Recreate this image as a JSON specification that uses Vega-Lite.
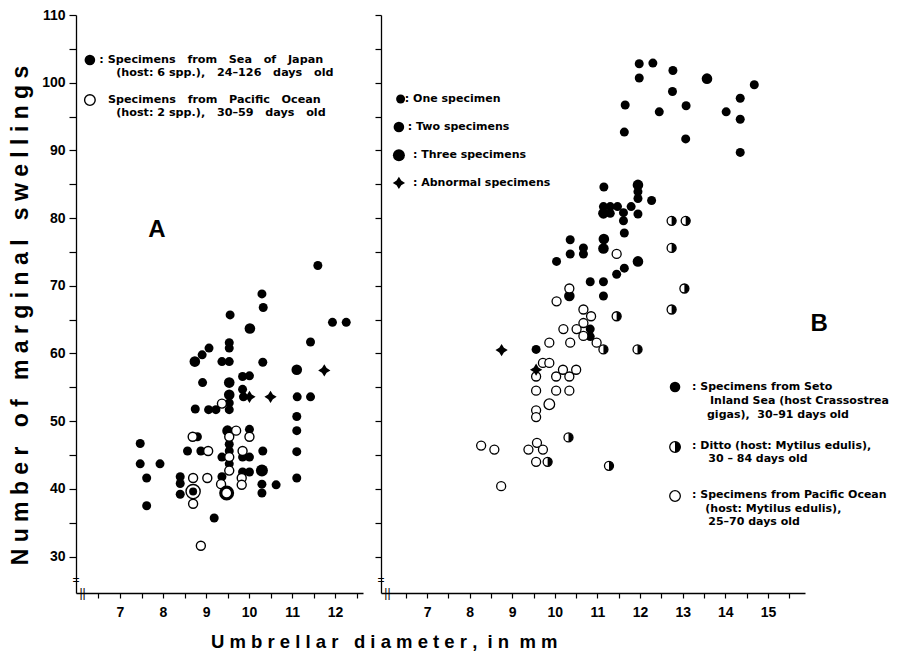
{
  "$schema": "https://vega.github.io/schema/vega-lite/v6.json",
  "background": "white",
  "padding": {"left": 9, "top": 8, "right": 0, "bottom": 0},
  "bounds": "flush",
  "spacing": 18,
  "config": {
    "view": {"stroke": null},
    "axis": {"domainColor": "black", "tickColor": "black", "labelColor": "black", "labelFont": "Liberation Sans", "labelFontWeight": "bold", "labelFontSize": 14, "grid": false, "domainWidth": 1.3, "tickWidth": 1.2, "tickSize": 6},
    "text": {"color": "black"}
  },
  "title": {"text": "U m b r e l l a r \u00a0 d i a m e t e r , \u00a0i n \u00a0m m", "orient": "bottom", "anchor": "start", "dx": 202, "offset": 14, "font": "Liberation Sans", "fontSize": 18.5, "fontWeight": "bold", "color": "black"},
  "datasets": {
    "ptsA": [
      {"x":10.33,"y":66.8,"k":"f","n":1},{"x":9.56,"y":65.7,"k":"f","n":1},{"x":10.02,"y":63.7,"k":"f","n":2},{"x":11.94,"y":64.6,"k":"f","n":1},{"x":12.26,"y":64.6,"k":"f","n":1},
      {"x":11.6,"y":73.0,"k":"f","n":1},{"x":10.3,"y":68.8,"k":"f","n":1},
      {"x":11.43,"y":61.7,"k":"f","n":1},{"x":9.54,"y":61.6,"k":"f","n":1},{"x":9.54,"y":60.8,"k":"f","n":1},{"x":9.07,"y":60.8,"k":"f","n":1},{"x":8.91,"y":59.8,"k":"f","n":1},
      {"x":8.74,"y":58.8,"k":"f","n":2},{"x":9.37,"y":58.8,"k":"f","n":1},{"x":9.54,"y":58.8,"k":"f","n":1},{"x":10.32,"y":58.7,"k":"f","n":1},{"x":11.11,"y":57.6,"k":"f","n":2},
      {"x":9.85,"y":56.6,"k":"f","n":1},{"x":10.01,"y":56.7,"k":"f","n":1},{"x":8.92,"y":55.7,"k":"f","n":1},{"x":9.54,"y":55.7,"k":"f","n":2},{"x":9.85,"y":54.7,"k":"f","n":1},
      {"x":9.54,"y":53.9,"k":"f","n":2},{"x":9.87,"y":53.6,"k":"f","n":1},{"x":11.12,"y":53.6,"k":"f","n":1},{"x":11.43,"y":53.6,"k":"f","n":1},{"x":9.54,"y":52.7,"k":"f","n":1},
      {"x":8.75,"y":51.8,"k":"f","n":1},{"x":9.06,"y":51.7,"k":"f","n":1},{"x":9.23,"y":51.7,"k":"f","n":1},{"x":9.54,"y":51.7,"k":"f","n":1},{"x":11.11,"y":50.7,"k":"f","n":1},
      {"x":11.11,"y":48.6,"k":"f","n":1},{"x":9.5,"y":48.6,"k":"f","n":2},{"x":10.01,"y":48.8,"k":"f","n":1},{"x":8.8,"y":47.7,"k":"f","n":1},{"x":7.47,"y":46.7,"k":"f","n":1},
      {"x":9.54,"y":46.6,"k":"f","n":1},{"x":9.54,"y":45.6,"k":"f","n":1},{"x":8.57,"y":45.6,"k":"f","n":1},{"x":8.88,"y":45.6,"k":"f","n":1},{"x":10.32,"y":45.6,"k":"f","n":1},
      {"x":11.11,"y":45.5,"k":"f","n":1},{"x":9.37,"y":44.7,"k":"f","n":1},{"x":9.85,"y":44.7,"k":"f","n":1},{"x":10.01,"y":44.7,"k":"f","n":1},{"x":7.47,"y":43.7,"k":"f","n":1},
      {"x":7.93,"y":43.7,"k":"f","n":1},{"x":9.54,"y":43.7,"k":"f","n":1},{"x":10.3,"y":42.7,"k":"f","n":3},{"x":9.85,"y":42.5,"k":"f","n":1},{"x":10.01,"y":42.5,"k":"f","n":1},
      {"x":7.62,"y":41.6,"k":"f","n":1},{"x":8.4,"y":41.8,"k":"f","n":1},{"x":9.37,"y":41.8,"k":"f","n":1},{"x":11.11,"y":41.6,"k":"f","n":1},{"x":8.4,"y":40.8,"k":"f","n":1},
      {"x":10.3,"y":40.7,"k":"f","n":1},{"x":10.63,"y":40.6,"k":"f","n":1},{"x":8.4,"y":39.2,"k":"f","n":1},{"x":10.3,"y":39.4,"k":"f","n":1},
      {"x":7.62,"y":37.5,"k":"f","n":1},{"x":9.19,"y":35.7,"k":"f","n":1},
      {"x":8.7,"y":39.6,"k":"r","n":3},{"x":8.7,"y":39.6,"k":"f","n":1},
      {"x":9.48,"y":39.4,"k":"t","n":3},
      {"x":11.75,"y":57.5,"k":"d","n":1},{"x":10.01,"y":53.6,"k":"d","n":1},{"x":10.5,"y":53.6,"k":"d","n":1},
      {"x":9.37,"y":52.6,"k":"o","n":1},{"x":9.7,"y":48.6,"k":"o","n":1},{"x":10.01,"y":47.7,"k":"o","n":1},{"x":8.69,"y":47.7,"k":"o","n":1},{"x":9.54,"y":47.7,"k":"o","n":1},
      {"x":9.05,"y":45.6,"k":"o","n":1},{"x":9.85,"y":45.6,"k":"o","n":1},{"x":9.54,"y":44.7,"k":"o","n":1},{"x":9.54,"y":42.7,"k":"o","n":1},{"x":8.7,"y":41.6,"k":"o","n":1},
      {"x":9.03,"y":41.6,"k":"o","n":1},{"x":9.83,"y":41.6,"k":"o","n":1},{"x":9.35,"y":40.7,"k":"o","n":1},{"x":9.83,"y":40.6,"k":"o","n":1},{"x":8.7,"y":37.8,"k":"o","n":1},
      {"x":8.88,"y":31.6,"k":"o","n":1},
      {"x":6.3,"y":103.35,"k":"f","n":2},{"x":6.3,"y":97.44,"k":"o","n":2}
    ],
    "ptsB": [
      {"x":11.98,"y":102.8,"k":"f","n":1},{"x":12.3,"y":102.9,"k":"f","n":1},{"x":12.77,"y":101.8,"k":"f","n":1},{"x":11.98,"y":100.7,"k":"f","n":1},{"x":13.57,"y":100.6,"k":"f","n":2},
      {"x":14.68,"y":99.7,"k":"f","n":1},{"x":12.76,"y":98.7,"k":"f","n":1},{"x":14.35,"y":97.7,"k":"f","n":1},{"x":11.65,"y":96.7,"k":"f","n":1},{"x":13.08,"y":96.6,"k":"f","n":1},
      {"x":12.45,"y":95.7,"k":"f","n":1},{"x":14.02,"y":95.7,"k":"f","n":1},{"x":14.35,"y":94.6,"k":"f","n":1},{"x":11.63,"y":92.7,"k":"f","n":1},{"x":13.07,"y":91.7,"k":"f","n":1},
      {"x":14.35,"y":89.7,"k":"f","n":1},{"x":11.15,"y":84.6,"k":"f","n":1},{"x":11.95,"y":84.9,"k":"f","n":2},{"x":11.95,"y":83.9,"k":"f","n":1},{"x":11.95,"y":82.9,"k":"f","n":1},
      {"x":12.27,"y":82.6,"k":"f","n":1},{"x":11.14,"y":81.7,"k":"f","n":1},{"x":11.3,"y":81.7,"k":"f","n":1},{"x":11.47,"y":81.7,"k":"f","n":1},{"x":11.14,"y":80.7,"k":"f","n":2},
      {"x":11.3,"y":80.7,"k":"f","n":1},{"x":11.79,"y":81.7,"k":"f","n":1},{"x":11.61,"y":80.8,"k":"f","n":1},{"x":11.95,"y":80.6,"k":"f","n":1},{"x":11.61,"y":79.6,"k":"f","n":1},
      {"x":11.63,"y":77.8,"k":"f","n":1},{"x":11.15,"y":76.9,"k":"f","n":2},{"x":10.36,"y":76.8,"k":"f","n":1},{"x":10.67,"y":75.6,"k":"f","n":1},{"x":11.14,"y":75.5,"k":"f","n":2},
      {"x":10.36,"y":74.7,"k":"f","n":1},{"x":10.67,"y":74.7,"k":"f","n":1},{"x":10.04,"y":73.6,"k":"f","n":1},{"x":11.95,"y":73.6,"k":"f","n":2},{"x":11.63,"y":72.6,"k":"f","n":1},
      {"x":11.45,"y":71.7,"k":"f","n":1},{"x":10.83,"y":70.6,"k":"f","n":1},{"x":11.14,"y":70.6,"k":"f","n":1},{"x":10.34,"y":68.5,"k":"f","n":2},{"x":11.14,"y":68.5,"k":"f","n":1},
      {"x":10.83,"y":63.6,"k":"f","n":1},{"x":10.83,"y":62.5,"k":"f","n":1},{"x":9.56,"y":60.6,"k":"f","n":1},
      {"x":12.74,"y":79.6,"k":"h","n":1},{"x":13.07,"y":79.6,"k":"h","n":1},{"x":12.74,"y":75.6,"k":"h","n":1},{"x":13.04,"y":69.6,"k":"h","n":1},{"x":12.74,"y":66.5,"k":"h","n":1},
      {"x":11.45,"y":65.5,"k":"h","n":1},{"x":11.14,"y":60.6,"k":"h","n":1},{"x":11.94,"y":60.6,"k":"h","n":1},{"x":10.32,"y":47.6,"k":"h","n":1},{"x":9.83,"y":44.0,"k":"h","n":1},
      {"x":11.27,"y":43.4,"k":"h","n":1},
      {"x":11.45,"y":74.7,"k":"o","n":1},{"x":10.34,"y":69.6,"k":"o","n":1},{"x":10.04,"y":67.7,"k":"o","n":1},{"x":10.67,"y":66.5,"k":"o","n":1},{"x":10.85,"y":65.5,"k":"o","n":1},
      {"x":10.67,"y":64.5,"k":"o","n":1},{"x":10.2,"y":63.6,"k":"o","n":1},{"x":10.51,"y":63.6,"k":"o","n":1},{"x":10.67,"y":62.6,"k":"o","n":1},{"x":10.36,"y":61.6,"k":"o","n":1},
      {"x":9.87,"y":61.6,"k":"o","n":1},{"x":10.98,"y":61.6,"k":"o","n":1},{"x":9.72,"y":58.6,"k":"o","n":1},{"x":9.87,"y":58.6,"k":"o","n":1},{"x":10.19,"y":57.6,"k":"o","n":1},
      {"x":10.5,"y":57.6,"k":"o","n":1},{"x":9.56,"y":56.6,"k":"o","n":1},{"x":10.03,"y":56.6,"k":"o","n":1},{"x":10.34,"y":56.6,"k":"o","n":1},{"x":9.56,"y":54.5,"k":"o","n":1},
      {"x":10.03,"y":54.5,"k":"o","n":1},{"x":10.34,"y":54.5,"k":"o","n":1},{"x":9.87,"y":52.5,"k":"o","n":2},{"x":9.56,"y":51.6,"k":"o","n":1},{"x":9.56,"y":50.6,"k":"o","n":1},
      {"x":8.27,"y":46.4,"k":"o","n":1},{"x":8.58,"y":45.8,"k":"o","n":1},{"x":9.38,"y":45.8,"k":"o","n":1},{"x":9.58,"y":46.8,"k":"o","n":1},{"x":9.72,"y":45.8,"k":"o","n":1},
      {"x":9.56,"y":44.0,"k":"o","n":1},{"x":8.74,"y":40.4,"k":"o","n":1},
      {"x":8.75,"y":60.5,"k":"d","n":1},{"x":9.56,"y":57.6,"k":"d","n":1},
      {"x":6.38,"y":97.6,"k":"f","n":1},{"x":6.34,"y":93.46,"k":"f","n":2},{"x":6.34,"y":89.3,"k":"f","n":3},{"x":6.34,"y":85.2,"k":"d","n":1},
      {"x":12.82,"y":55.05,"k":"f","n":2},{"x":12.82,"y":46.19,"k":"h","n":2},{"x":12.82,"y":38.95,"k":"o","n":2}
    ],
    "txtA": [
      {"x":6.52,"y":103.4,"t":": Specimens \u00a0\u00a0from \u00a0\u00a0Sea \u00a0\u00a0of \u00a0\u00a0Japan"},
      {"x":6.91,"y":101.4,"t":"(host: 6 spp.), \u00a0\u00a024–126 \u00a0\u00a0days \u00a0\u00a0old"},
      {"x":6.72,"y":97.5,"t":"Specimens \u00a0\u00a0from \u00a0\u00a0Pacific \u00a0\u00a0Ocean"},
      {"x":6.91,"y":95.5,"t":"(host: 2 spp.), \u00a0\u00a030–59 \u00a0\u00a0days \u00a0\u00a0old"}
    ],
    "txtB": [
      {"x":6.48,"y":97.6,"t":": One specimen"},
      {"x":6.55,"y":93.46,"t":": Two specimens"},
      {"x":6.67,"y":89.3,"t":": Three specimens"},
      {"x":6.67,"y":85.2,"t":": Abnormal specimens"}
    ],
    "txtB2": [
      {"x":13.22,"y":55.05,"t":": Specimens from Seto"},
      {"x":13.64,"y":52.98,"t":"Inland Sea (host Crassostrea"},
      {"x":13.57,"y":50.91,"t":"gigas), \u00a030–91 days old"},
      {"x":13.22,"y":46.3,"t":": Ditto (host: Mytilus edulis),"},
      {"x":13.6,"y":44.35,"t":"30 – 84 days old"},
      {"x":13.22,"y":39.05,"t":": Specimens from Pacific Ocean"},
      {"x":13.53,"y":37.05,"t":"(host: Mytilus edulis),"},
      {"x":13.6,"y":35.05,"t":"25–70 days old"}
    ],
    "lblA": [{"x":7.86,"y":78.2,"t":"A"}],
    "lblB": [{"x":16.2,"y":64.4,"t":"B"}],
    "brkA": [{"x":5.977,"y":26.5,"t":"="},{"x":6.13,"y":24.62,"t":"||"}],
    "brkB": [{"x":5.92,"y":26.5,"t":"="},{"x":6.07,"y":24.62,"t":"||"}]
  },
  "hconcat": [
    {
      "width": 287,
      "height": 578,
      "encoding": {
        "x": {"field": "x", "type": "quantitative", "scale": {"domain": [5.977, 12.65], "nice": false, "zero": false},
          "axis": {"title": null, "values": [6.5,7,7.5,8,8.5,9,9.5,10,10.5,11,11.5,12,12.5], "labelExpr": "datum.value % 1 === 0 ? format(datum.value, 'd') : ''", "tickSize": 5, "labelPadding": 7}},
        "y": {"field": "y", "type": "quantitative", "scale": {"domain": [24.62, 110], "nice": false, "zero": false},
          "axis": {"title": "N u m b e r \u00a0 o f \u00a0 m a r g i n a l \u00a0 s w e l l i n g s", "titleFont": "Liberation Sans", "titleFontSize": 23, "titleFontWeight": "bold", "titleColor": "black", "titlePadding": 9, "titleY": 300, "minExtent": 35, "maxExtent": 35,
            "values": [30,35,40,45,50,55,60,65,70,75,80,85,90,95,100,105,110], "labelExpr": "datum.value % 10 === 0 ? format(datum.value, 'd') : ''", "tickSize": 7, "labelPadding": 4}}
      },
      "layer": [
        {"data": {"name": "ptsA"}, "transform": [{"filter": "datum.k === 'f'"}], "mark": {"type": "point", "shape": "circle", "filled": true, "color": "black", "opacity": 1},
          "encoding": {"size": {"field": "n", "type": "ordinal", "scale": {"domain": [1,2,3], "range": [81,144,225]}, "legend": null}}},
        {"data": {"name": "ptsA"}, "transform": [{"filter": "datum.k === 'o'"}], "mark": {"type": "point", "shape": "circle", "filled": false, "fill": "white", "fillOpacity": 1, "stroke": "black", "strokeWidth": 1.4, "opacity": 1},
          "encoding": {"size": {"field": "n", "type": "ordinal", "scale": {"domain": [1,2,3], "range": [56,110,170]}, "legend": null}}},
        {"data": {"name": "ptsA"}, "transform": [{"filter": "datum.k === 'r'"}], "mark": {"type": "point", "shape": "circle", "filled": false, "fill": "white", "fillOpacity": 1, "stroke": "black", "strokeWidth": 1.4, "size": 200, "opacity": 1}},
        {"data": {"name": "ptsA"}, "transform": [{"filter": "datum.k === 't'"}], "mark": {"type": "point", "shape": "circle", "filled": false, "fill": "white", "fillOpacity": 1, "stroke": "black", "strokeWidth": 3.2, "size": 140, "opacity": 1}},
        {"data": {"name": "ptsA"}, "transform": [{"filter": "datum.k === 'r'"}], "mark": {"type": "point", "shape": "circle", "filled": true, "color": "black", "size": 64, "opacity": 1}},
        {"data": {"name": "ptsA"}, "transform": [{"filter": "datum.k === 'd'"}], "mark": {"type": "point", "shape": "M0,-1L0.38,-0.38L1,0L0.38,0.38L0,1L-0.38,0.38L-1,0L-0.38,-0.38Z", "filled": true, "color": "black", "size": 150, "opacity": 1}},
        {"data": {"name": "txtA"}, "mark": {"type": "text", "align": "left", "baseline": "middle", "font": "DejaVu Sans", "fontWeight": "bold", "fontSize": 11.2, "color": "black"}, "encoding": {"text": {"field": "t"}}},
        {"data": {"name": "lblA"}, "mark": {"type": "text", "align": "center", "baseline": "middle", "font": "Liberation Sans", "fontWeight": "bold", "fontSize": 24, "color": "black"}, "encoding": {"text": {"field": "t"}}},
        {"data": {"name": "brkA"}, "mark": {"type": "text", "align": "center", "baseline": "middle", "font": "Liberation Sans", "fontSize": 12, "color": "black"}, "encoding": {"text": {"field": "t"}}}
      ]
    },
    {
      "width": 424,
      "height": 578,
      "encoding": {
        "x": {"field": "x", "type": "quantitative", "scale": {"domain": [5.92, 15.87], "nice": false, "zero": false},
          "axis": {"title": null, "values": [6.5,7,7.5,8,8.5,9,9.5,10,10.5,11,11.5,12,12.5,13,13.5,14,14.5,15,15.5], "labelExpr": "datum.value % 1 === 0 ? format(datum.value, 'd') : ''", "tickSize": 5, "labelPadding": 7}},
        "y": {"field": "y", "type": "quantitative", "scale": {"domain": [24.62, 110], "nice": false, "zero": false},
          "axis": {"title": null, "labels": false, "values": [30,35,40,45,50,55,60,65,70,75,80,85,90,95,100,105,110], "tickSize": 6}}
      },
      "layer": [
        {"data": {"name": "ptsB"}, "transform": [{"filter": "datum.k === 'f'"}], "mark": {"type": "point", "shape": "circle", "filled": true, "color": "black", "opacity": 1},
          "encoding": {"size": {"field": "n", "type": "ordinal", "scale": {"domain": [1,2,3], "range": [81,144,225]}, "legend": null}}},
        {"data": {"name": "ptsB"}, "transform": [{"filter": "datum.k === 'o'"}], "mark": {"type": "point", "shape": "circle", "filled": false, "fill": "white", "fillOpacity": 1, "stroke": "black", "strokeWidth": 1.3, "opacity": 1},
          "encoding": {"size": {"field": "n", "type": "ordinal", "scale": {"domain": [1,2,3], "range": [52,110,170]}, "legend": null}}},
        {"data": {"name": "ptsB"}, "transform": [{"filter": "datum.k === 'h'"}], "mark": {"type": "point", "shape": "circle", "filled": false, "fill": "white", "fillOpacity": 1, "stroke": "black", "strokeWidth": 1.3, "opacity": 1},
          "encoding": {"size": {"field": "n", "type": "ordinal", "scale": {"domain": [1,2,3], "range": [70,130,170]}, "legend": null}}},
        {"data": {"name": "ptsB"}, "transform": [{"filter": "datum.k === 'h'"}], "mark": {"type": "point", "shape": "M0,-1A1,1,0,0,1,0,1Z", "filled": true, "color": "black", "opacity": 1},
          "encoding": {"size": {"field": "n", "type": "ordinal", "scale": {"domain": [1,2,3], "range": [70,130,170]}, "legend": null}}},
        {"data": {"name": "ptsB"}, "transform": [{"filter": "datum.k === 'd'"}], "mark": {"type": "point", "shape": "M0,-1L0.38,-0.38L1,0L0.38,0.38L0,1L-0.38,0.38L-1,0L-0.38,-0.38Z", "filled": true, "color": "black", "size": 150, "opacity": 1}},
        {"data": {"name": "txtB"}, "mark": {"type": "text", "align": "left", "baseline": "middle", "font": "DejaVu Sans", "fontWeight": "bold", "fontSize": 11, "color": "black"}, "encoding": {"text": {"field": "t"}}},
        {"data": {"name": "txtB2"}, "mark": {"type": "text", "align": "left", "baseline": "middle", "font": "DejaVu Sans", "fontWeight": "bold", "fontSize": 11, "color": "black"}, "encoding": {"text": {"field": "t"}}},
        {"data": {"name": "lblB"}, "mark": {"type": "text", "align": "center", "baseline": "middle", "font": "Liberation Sans", "fontWeight": "bold", "fontSize": 24, "color": "black"}, "encoding": {"text": {"field": "t"}}},
        {"data": {"name": "brkB"}, "mark": {"type": "text", "align": "center", "baseline": "middle", "font": "Liberation Sans", "fontSize": 12, "color": "black"}, "encoding": {"text": {"field": "t"}}}
      ]
    }
  ]
}
